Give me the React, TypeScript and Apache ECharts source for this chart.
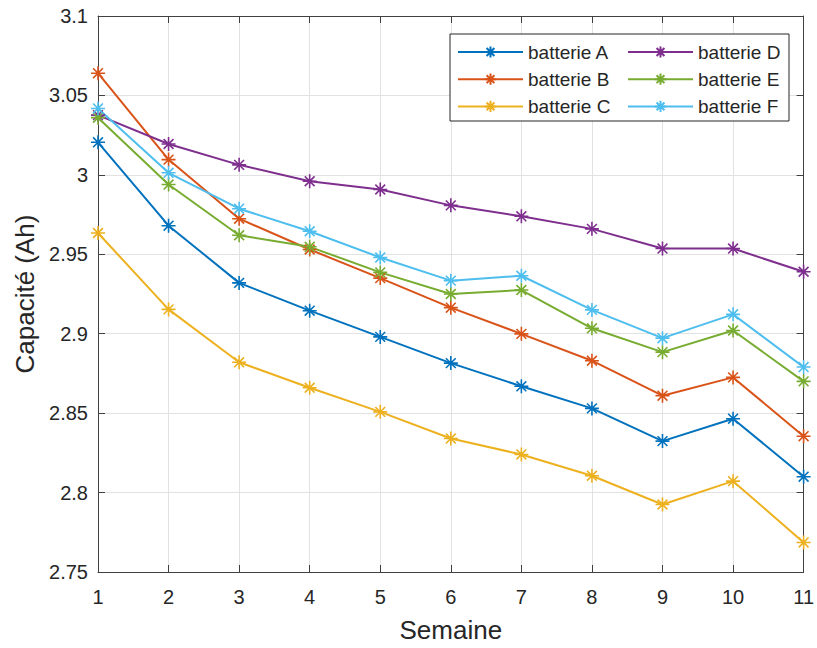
import React, { useEffect, useRef } from "react";
import * as echarts from "echarts";

const weeks = [1, 2, 3, 4, 5, 6, 7, 8, 9, 10, 11];
const seriesNames = ["batterie A", "batterie B", "batterie C", "batterie D", "batterie E", "batterie F"];
const batterieA = [3.0205, 2.968, 2.932, 2.9145, 2.898, 2.8815, 2.8669, 2.853, 2.8324, 2.8465, 2.81];
const batterieB = [3.064, 3.0096, 2.9724, 2.953, 2.935, 2.9164, 2.8999, 2.883, 2.861, 2.8725, 2.8355];
const batterieC = [2.9634, 2.9153, 2.882, 2.866, 2.8508, 2.834, 2.824, 2.8106, 2.7925, 2.8072, 2.7686];
const batterieD = [3.0376, 3.0194, 3.0063, 2.996, 2.9908, 2.9808, 2.9739, 2.966, 2.9536, 2.9536, 2.939];
const batterieE = [3.036, 2.9939, 2.962, 2.9547, 2.9386, 2.925, 2.9275, 2.9034, 2.8884, 2.902, 2.87];
const batterieF = [3.0418, 3.0013, 2.9787, 2.9645, 2.948, 2.9334, 2.9365, 2.915, 2.8972, 2.9122, 2.879];
const allValues = [batterieA, batterieB, batterieC, batterieD, batterieE, batterieF];
const colors = ["#0072BD", "#D95319", "#EDB120", "#7E2F8E", "#77AC30", "#4DBEEE"];

const asterisk = "path://M5 0 L5 10 M0 5 L10 5 M1.5 1.5 L8.5 8.5 M1.5 8.5 L8.5 1.5";
const FONT = "Liberation Sans, Arial, Helvetica, sans-serif";
const TXT = "#262626";

export default function App() {
  const ref = useRef<HTMLDivElement>(null);
  useEffect(() => {
    if (!ref.current) return;
    const chart = echarts.init(ref.current, undefined, { renderer: "svg" });
    const fmt = (v: number) => String(Math.round(v * 100) / 100);
    const axisLine = { show: true, lineStyle: { color: "#404040", width: 1 } };
    const tick = { show: true, inside: true, length: 7, lineStyle: { color: "#404040" } };
    const legendText = { fontSize: 19, lineHeight: 19, color: TXT, fontFamily: FONT };
    chart.setOption({
      animation: false,
      backgroundColor: "#ffffff",
      grid: { left: 98, top: 16, width: 708, height: 558, containLabel: false },
      xAxis: [
        {
          type: "value", min: 1, max: 11, interval: 1, position: "bottom",
          name: "Semaine", nameLocation: "middle", nameGap: 45,
          nameTextStyle: { fontSize: 26, color: TXT, fontFamily: FONT },
          axisLine, axisTick: tick,
          axisLabel: { fontSize: 20, color: TXT, fontFamily: FONT, margin: 15 },
          splitLine: { show: true, lineStyle: { color: "#e2e2e2", width: 1 } },
        },
        {
          type: "value", min: 1, max: 11, interval: 1, position: "top",
          axisLine, axisTick: tick, axisLabel: { show: false }, splitLine: { show: false },
        },
      ],
      yAxis: [
        {
          type: "value", min: 2.75, max: 3.1, interval: 0.05, position: "left",
          name: "Capacité (Ah)", nameLocation: "middle", nameGap: 60,
          nameTextStyle: { fontSize: 26, color: TXT, fontFamily: FONT },
          axisLine, axisTick: tick,
          axisLabel: { fontSize: 20, color: TXT, fontFamily: FONT, margin: 10, formatter: fmt },
          splitLine: { show: true, lineStyle: { color: "#e2e2e2", width: 1 } },
        },
        {
          type: "value", min: 2.75, max: 3.1, interval: 0.05, position: "right",
          axisLine, axisTick: tick, axisLabel: { show: false }, splitLine: { show: false },
        },
      ],
      legend: [
        {
          data: seriesNames.slice(0, 3), orient: "vertical", left: 452, top: 37.5,
          itemWidth: 65, itemHeight: 14, itemGap: 8.2,
          textStyle: legendText,
          z: 5,
        },
        {
          data: seriesNames.slice(3, 6), orient: "vertical", left: 622, top: 37.5,
          itemWidth: 65, itemHeight: 14, itemGap: 8.2,
          textStyle: legendText,
          z: 5,
        },
      ],
      graphic: [
        {
          type: "rect", z: 3,
          shape: { x: 450, y: 34, width: 339, height: 87 },
          style: { fill: "#ffffff", stroke: "#262626", lineWidth: 1 },
        },
      ],
      series: allValues.map((vals, i) => ({
        name: seriesNames[i],
        type: "line",
        xAxisIndex: 0, yAxisIndex: 0,
        data: weeks.map((w, j) => [w, vals[j]]),
        symbol: asterisk,
        symbolSize: 14,
        showSymbol: true,
        lineStyle: { color: colors[i], width: 2 },
        itemStyle: { color: colors[i], borderColor: colors[i], borderWidth: 1.6 },
        emphasis: { disabled: true },
      })),
    });
    return () => chart.dispose();
  }, []);
  return <div ref={ref} style={{ position: "absolute", left: 0, top: 0, width: 817, height: 648 }} />;
}
